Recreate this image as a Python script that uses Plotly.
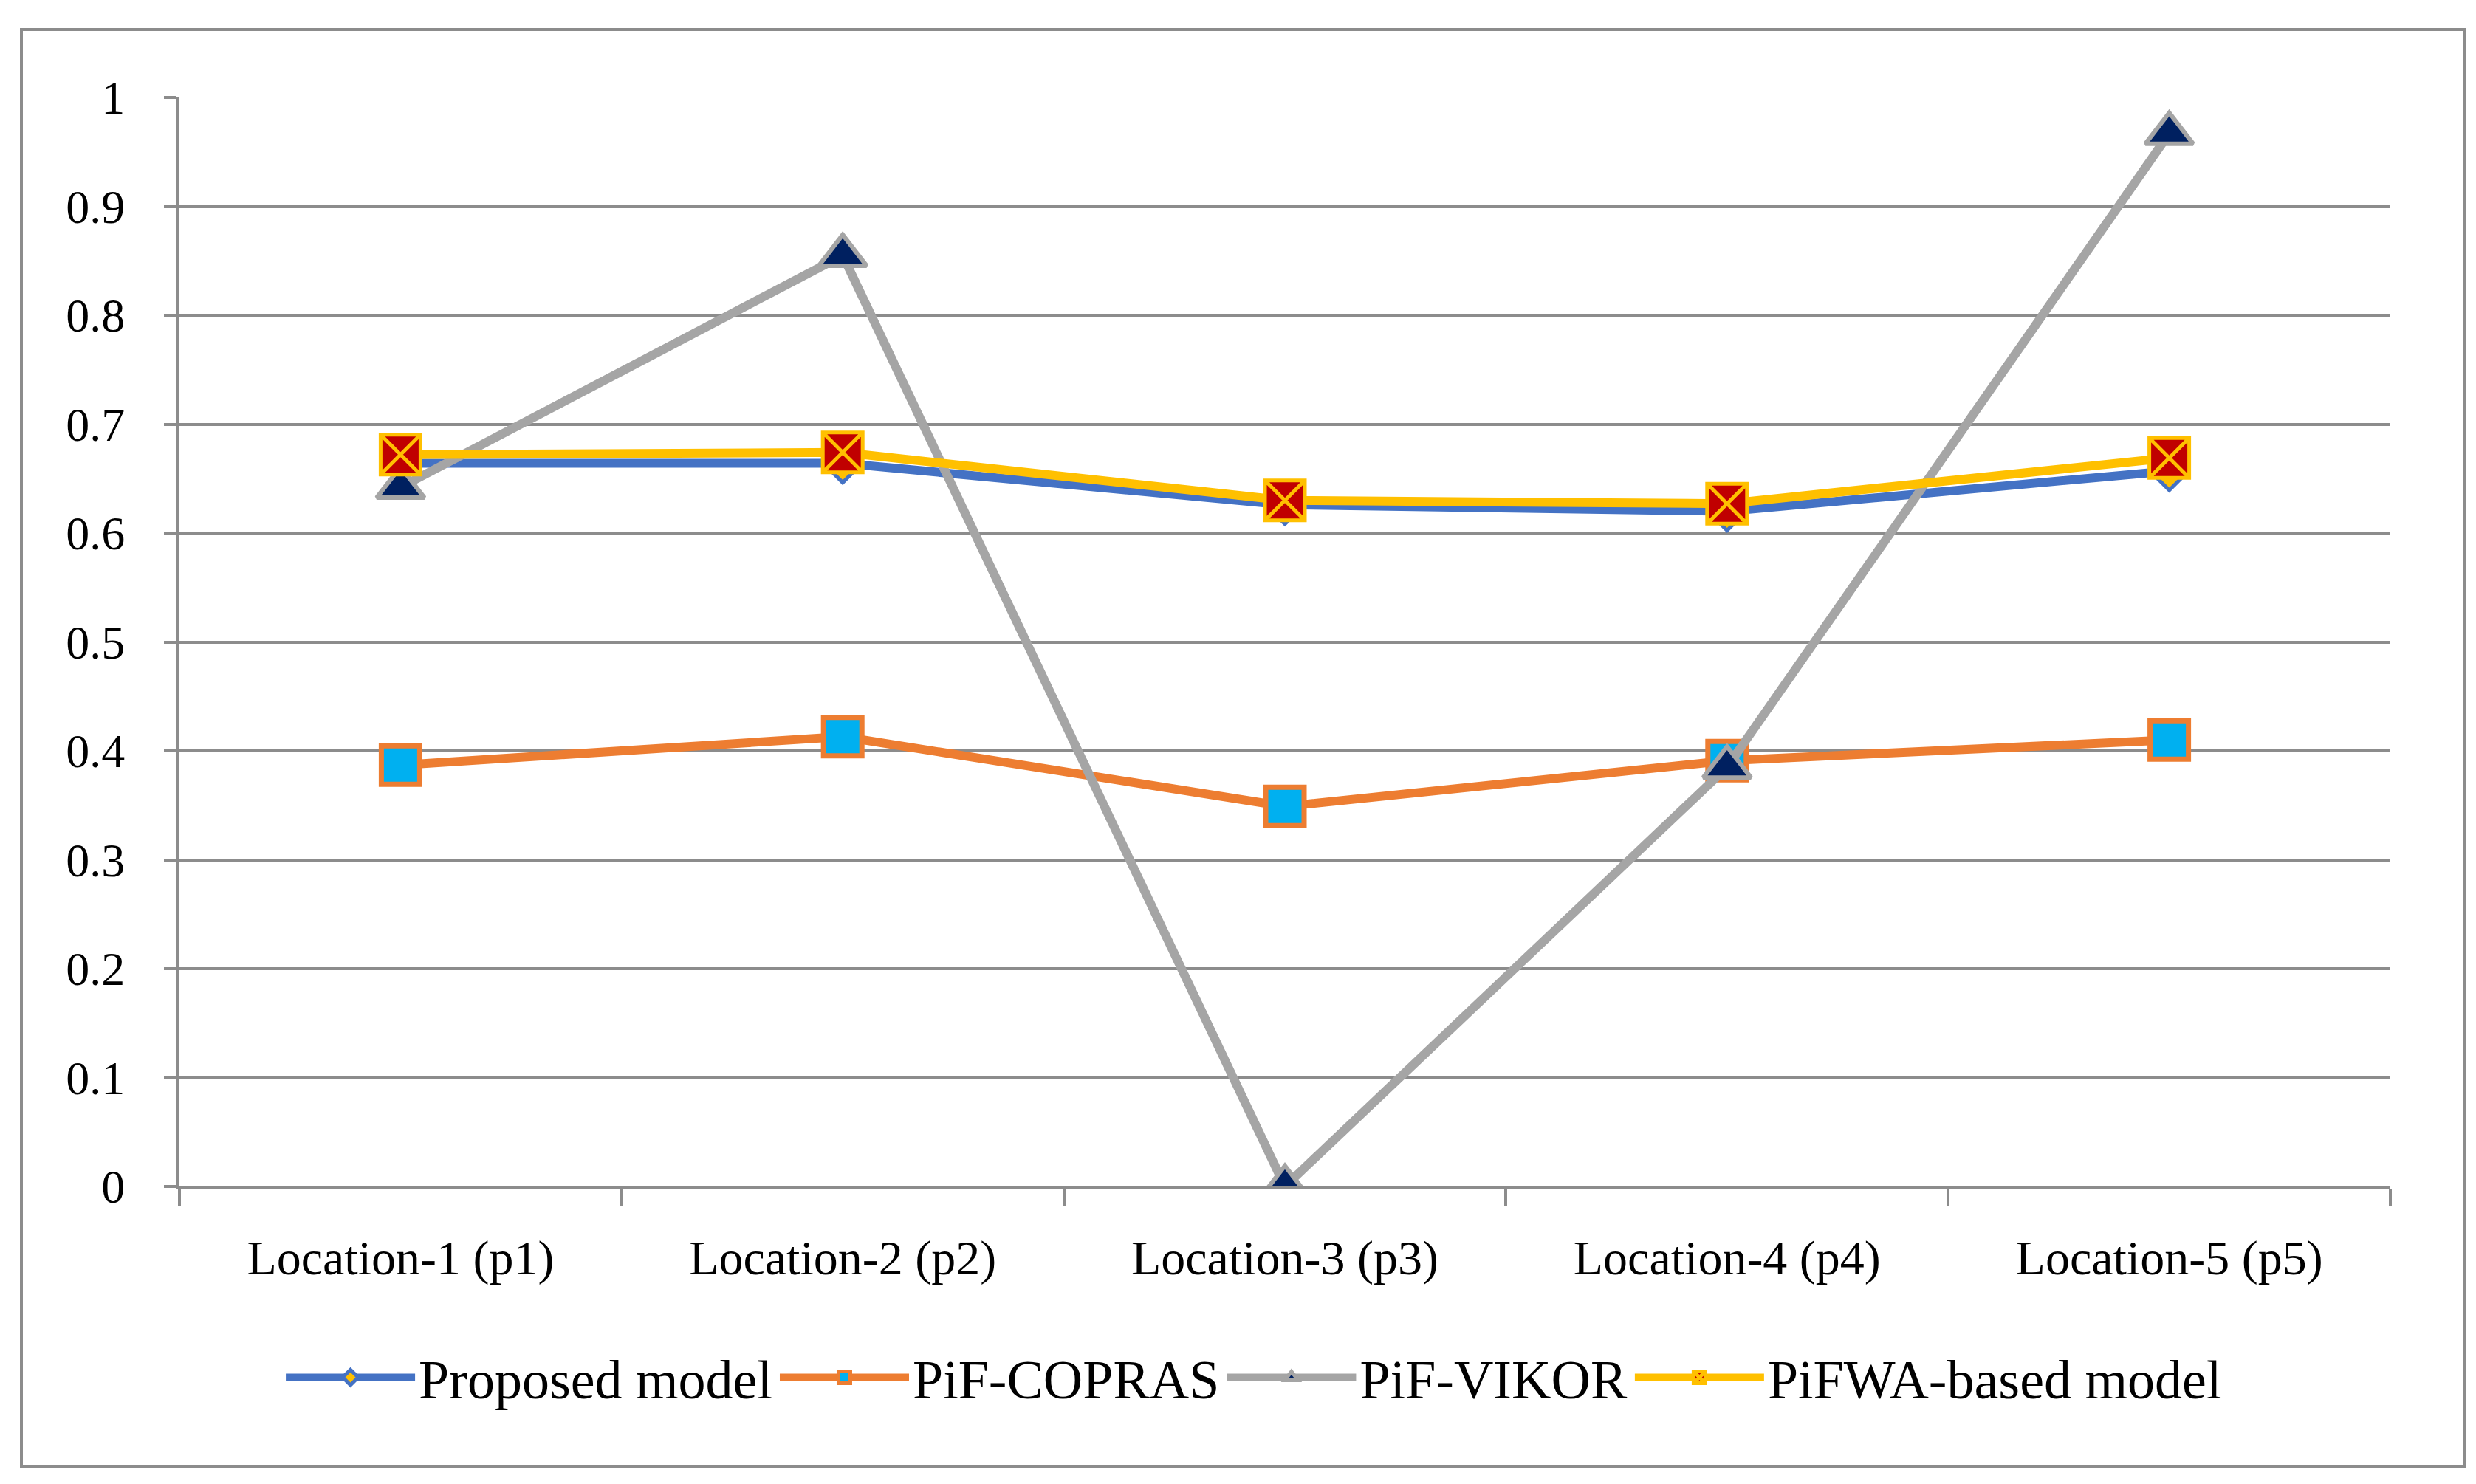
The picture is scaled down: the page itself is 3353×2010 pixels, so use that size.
import plotly.graph_objects as go

categories = ["Location-1 (p1)", "Location-2 (p2)", "Location-3 (p3)", "Location-4 (p4)", "Location-5 (p5)"]
proposed = [0.664, 0.664, 0.626, 0.620, 0.657]
copras = [0.387, 0.413, 0.349, 0.391, 0.410]
vikor = [0.642, 0.855, 0.0, 0.385, 0.967]
pifwa = [0.672, 0.674, 0.630, 0.627, 0.669]

W, H = 3353, 2010
FONT = "Liberation Serif"
GRID = "#8C8C8C"

fig = go.Figure()
fig.add_trace(go.Scatter(
    x=categories, y=proposed, name="Proposed model", mode="lines+markers",
    line=dict(color="#4472C4", width=12),
    marker=dict(symbol="diamond", size=40, color="#FFC000", line=dict(color="#4472C4", width=5)),
))
fig.add_trace(go.Scatter(
    x=categories, y=copras, name="PiF-COPRAS", mode="lines+markers",
    line=dict(color="#ED7D31", width=12),
    marker=dict(symbol="square", size=52, color="#00B0F0", line=dict(color="#ED7D31", width=7)),
))
fig.add_trace(go.Scatter(
    x=categories, y=vikor, name="PiF-VIKOR", mode="lines+markers",
    line=dict(color="#A5A5A5", width=12),
    marker=dict(symbol="triangle-up", size=56, color="#002060", line=dict(color="#A5A5A5", width=6)),
))
fig.add_trace(go.Scatter(
    x=categories, y=pifwa, name="PiFWA-based model", mode="lines+markers",
    line=dict(color="#FFC000", width=12),
    marker=dict(symbol="square-x", size=54, color="#C00000", line=dict(color="#FFC000", width=5)),
))

# plot area in pixels
left, right, top, bottom = 235, 3229, 124, 1599
pw, ph = right - left, bottom - top

def px(xp):
    return (xp - left) / pw

def py(yp):
    return (bottom - yp) / ph

fig.add_shape(type="rect", xref="paper", yref="paper",
              x0=px(21), x1=px(3329), y0=py(1978), y1=py(32),
              line=dict(color=GRID, width=4), fillcolor="rgba(0,0,0,0)", layer="below")

fig.update_layout(
    width=W, height=H,
    margin=dict(l=left, r=W - right, t=top, b=H - bottom),
    paper_bgcolor="white", plot_bgcolor="white",
    font=dict(family=FONT, size=64, color="black"),
    showlegend=True,
    legend=dict(orientation="h", x=0.486, xanchor="center", y=py(1858), yanchor="middle",
                font=dict(family=FONT, size=74), itemwidth=175, tracegroupgap=0,
                bgcolor="rgba(0,0,0,0)"),
)
fig.update_xaxes(
    type="category", range=[-0.5, 4.5], tickson="boundaries",
    ticks="outside", ticklen=22, tickwidth=4, tickcolor=GRID,
    showline=True, linecolor=GRID, linewidth=4, showgrid=False, zeroline=False,
    tickfont=dict(family=FONT, size=66), ticklabelstandoff=36,
)
fig.update_yaxes(
    range=[0, 1], dtick=0.1, tick0=0,
    ticks="outside", ticklen=17, tickwidth=4, tickcolor=GRID,
    showline=True, linecolor=GRID, linewidth=4,
    showgrid=True, gridcolor=GRID, gridwidth=4, zeroline=False,
    tickfont=dict(family=FONT, size=64), ticklabelstandoff=40,
)

fig.write_html("out.html")
